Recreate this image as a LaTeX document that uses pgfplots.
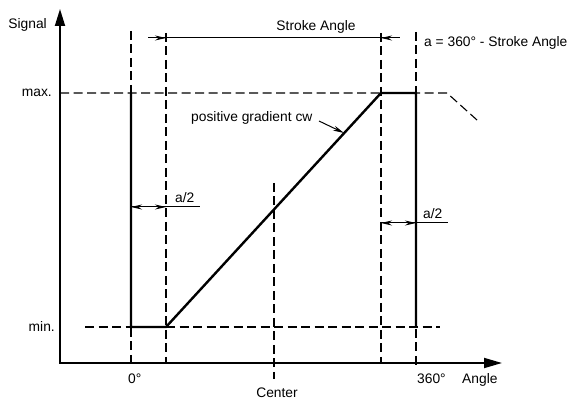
\documentclass[border=0pt]{standalone}
\usepackage{pgfplots}
\pgfplotsset{compat=1.18}
\usetikzlibrary{arrows.meta}
\usepackage{fontspec}
\setmainfont{Liberation Sans}
\newcommand\lbl{\fontsize{13.8bp}{16bp}\selectfont}
\begin{document}
\begin{tikzpicture}[font=\lbl]
\begin{axis}[
  hide axis, scale only axis, width=572bp, height=402bp,
  xmin=0, xmax=572, ymin=0, ymax=402, clip=false,
  dsh/.style={black, line width=1.1bp, dash pattern=on 9bp off 4.5bp},
  thk/.style={black, line width=2.4bp},
  dim/.style={black, line width=1bp},
  sarr/.style={-{Stealth[length=11bp,width=5bp]}},
]
% bounding box
\addplot[draw=none] coordinates {(0,0) (572,402)};
% axes
\addplot[black, line width=1.8bp, -{Triangle[length=17bp,width=10bp]}] coordinates {(60,38) (60,393)};
\addplot[black, line width=1.8bp, -{Triangle[length=18bp,width=10bp]}] coordinates {(59,39) (502,39)};
% dashed verticals
\addplot[dsh] coordinates {(131,371) (131,34)};
\addplot[dsh] coordinates {(166,369) (166,39)};
\addplot[dsh] coordinates {(274,219) (274,23)};
\addplot[dsh] coordinates {(381,369) (381,39)};
\addplot[dsh] coordinates {(416,370) (416,34)};
% dashed horizontals
\addplot[dsh] coordinates {(60,309) (447,309) (477,282)};
\addplot[dsh] coordinates {(85,75) (440,75)};
% signal
\addplot[thk, line join=miter] coordinates {(131,309) (131,75) (166,75) (381,309) (416,309) (416,75)};
% stroke angle dimension
\addplot[dim] coordinates {(148,364) (400,364)};
\addplot[dim, sarr] coordinates {(150,364) (166,364)};
\addplot[dim, sarr] coordinates {(398,364) (381,364)};
% a/2 left
\addplot[dim] coordinates {(131,195) (200,195)};
\addplot[dim, {Stealth[length=11bp,width=5bp]}-{Stealth[length=11bp,width=5bp]}] coordinates {(131,195) (166,195)};
% a/2 right
\addplot[dim] coordinates {(381,179) (448,179)};
\addplot[dim, {Stealth[length=11bp,width=5bp]}-{Stealth[length=11bp,width=5bp]}] coordinates {(381,179) (416,179)};
% leader
\addplot[dim, sarr] coordinates {(319,281) (344,269)};
% labels
\node[font=\lbl, inner sep=0pt, anchor=east] at (axis cs:47,377) {Signal};
\node[font=\lbl, inner sep=0pt, anchor=east] at (axis cs:52,309) {max.};
\node[font=\lbl, inner sep=0pt, anchor=east] at (axis cs:55,75) {min.};
\node[font=\lbl, inner sep=0pt, anchor=base west] at (axis cs:128,19) {0°};
\node[font=\lbl, inner sep=0pt] at (axis cs:277,9) {Center};
\node[font=\lbl, inner sep=0pt, anchor=base west] at (axis cs:417,19) {360°};
\node[font=\lbl, inner sep=0pt, anchor=base west] at (axis cs:462,19) {Angle};
\node[font=\lbl, inner sep=0pt, anchor=south] at (axis cs:316,368) {Stroke Angle};
\node[font=\lbl, inner sep=0pt, anchor=west] at (axis cs:424,359) {a = 360° - Stroke Angle};
\node[font=\lbl, inner sep=0pt, anchor=west] at (axis cs:191,284) {positive gradient cw};
\node[font=\lbl, inner sep=0pt, anchor=south west] at (axis cs:175,199) {a/2};
\node[font=\lbl, inner sep=0pt, anchor=south west] at (axis cs:423,183) {a/2};
\end{axis}
\end{tikzpicture}
\end{document}
